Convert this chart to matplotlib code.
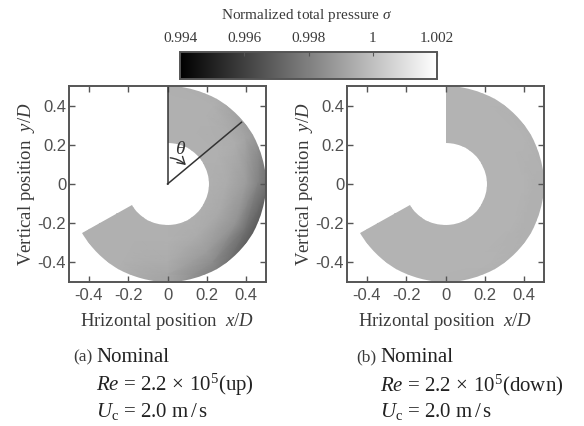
import numpy as np
import matplotlib
matplotlib.use("Agg")
import matplotlib.pyplot as plt
from matplotlib.patches import Wedge, FancyArrowPatch

plt.rcParams["font.family"] = ["Liberation Serif", "DejaVu Serif"]
plt.rcParams["mathtext.fontset"] = "custom"
plt.rcParams["mathtext.rm"] = "Liberation Serif"
plt.rcParams["mathtext.it"] = "Liberation Serif:italic"
plt.rcParams["axes.unicode_minus"] = False

# measurement grid: angle clockwise from +y (deg), radius (x/D)
theta_deg = [0, 30, 60, 90, 120, 150, 180, 210, 240]
radii = [0.20, 0.30, 0.40, 0.46, 0.53]

# normalized total pressure, rows = theta, cols = radius
sigma_up = [
    [0.9995, 0.9995, 0.9995, 0.9995, 0.9995],
    [0.9995, 0.9995, 0.9995, 0.9995, 0.9994],
    [0.9995, 0.9995, 0.9994, 0.9991, 0.9987],
    [0.9995, 0.9994, 0.9989, 0.9981, 0.9972],
    [0.9995, 0.9993, 0.9986, 0.9975, 0.9965],
    [0.9995, 0.9994, 0.9989, 0.9984, 0.9978],
    [0.9995, 0.9995, 0.9994, 0.9992, 0.9991],
    [0.9995, 0.9995, 0.9995, 0.9995, 0.9995],
    [0.9995, 0.9995, 0.9995, 0.9995, 0.9995],
]
sigma_down = [
    [0.9996, 0.9996, 0.9996, 0.9996, 0.9996],
    [0.9996, 0.9996, 0.9996, 0.9996, 0.9996],
    [0.9996, 0.9996, 0.9996, 0.9996, 0.9995],
    [0.9996, 0.9996, 0.9996, 0.9995, 0.9995],
    [0.9996, 0.9996, 0.9996, 0.9995, 0.9995],
    [0.9996, 0.9996, 0.9996, 0.9996, 0.9995],
    [0.9996, 0.9996, 0.9996, 0.9996, 0.9996],
    [0.9996, 0.9996, 0.9996, 0.9996, 0.9996],
    [0.9996, 0.9996, 0.9996, 0.9996, 0.9996],
]

r_in, r_out = 0.21, 0.50
theta_probe = 50  # probe line angle from vertical (deg)

ticks = [-0.4, -0.2, 0, 0.2, 0.4]
tick_labels = ["-0.4", "-0.2", "0", "0.2", "0.4"]
cbar_ticks = [0.994, 0.996, 0.998, 1.0, 1.002]
cbar_labels = ["0.994", "0.996", "0.998", "1", "1.002"]
vmin, vmax = 0.994, 1.002

captions = [
    ("(a)", ["Nominal", r"$Re$ = 2.2$\,\times\,$10$^{5}$(up)", r"$U_{\mathrm{c}}$ = 2.0 m$\,/\,$s"]),
    ("(b)", ["Nominal", r"$Re$ = 2.2$\,\times\,$10$^{5}$(down)", r"$U_{\mathrm{c}}$ = 2.0 m$\,/\,$s"]),
]

W, H = 584, 426
fig = plt.figure(figsize=(W / 100, H / 100), dpi=100)
frame_col = "#555555"
text_col = "#3a3a3a"

th = np.deg2rad(theta_deg)
R, TH = np.meshgrid(radii, th)
X = R * np.sin(TH)
Y = R * np.cos(TH)

lefts = [69, 347]
mesh = None
for k, (left, sig) in enumerate(zip(lefts, [sigma_up, sigma_down])):
    ax = fig.add_axes([left / W, 1 - 282 / H, 197 / W, 196 / H])
    mesh = ax.pcolormesh(X, Y, np.array(sig), cmap="gray", vmin=vmin, vmax=vmax,
                         shading="gouraud")
    wedge = Wedge((0, 0), r_out, 90 - max(theta_deg), 90, width=r_out - r_in,
                  transform=ax.transData)
    mesh.set_clip_path(wedge)
    ax.set_xlim(-0.5, 0.5)
    ax.set_ylim(-0.5, 0.5)
    ax.set_xticks(ticks)
    ax.set_xticklabels(tick_labels)
    ax.set_yticks(ticks)
    ax.set_yticklabels(tick_labels)
    ax.tick_params(direction="in", length=4, width=1, top=True, right=True,
                   colors=frame_col, labelcolor="#505050", labelsize=12)
    ax.tick_params(axis="x", pad=4)
    ax.tick_params(axis="y", pad=2)
    for lab in ax.get_xticklabels() + ax.get_yticklabels():
        lab.set_fontfamily("Liberation Sans")
    for sp in ax.spines.values():
        sp.set_color(frame_col)
        sp.set_linewidth(1.4)
    ax.set_xlabel(r"Hrizontal position  $x/D$", fontsize=13.5, color=text_col)
    ax.set_ylabel(r"Vertical position  $y/D$", fontsize=13.5, color=text_col)
    ax.xaxis.set_label_coords(0.5, -0.148)
    ax.yaxis.set_label_coords(-0.16, 0.5)

    if k == 0:
        # probe lines and angle marker
        a = np.deg2rad(theta_probe)
        ax.plot([0, 0], [0, 0.5], color="#333333", lw=1.1)
        ax.plot([0, 0.49 * np.sin(a)], [0, 0.49 * np.cos(a)], color="#333333", lw=1.1)
        ra = 0.135
        arr = FancyArrowPatch((0, ra), (ra * np.sin(a), ra * np.cos(a)),
                              connectionstyle="arc3,rad=-0.2",
                              arrowstyle="->,head_length=5,head_width=3",
                              color="#333333", lw=1.0, mutation_scale=1)
        ax.add_patch(arr)
        ax.text(0.065, 0.175, r"$\theta$", fontsize=14, color="#333333",
                ha="center", va="center")

# colorbar
cax = fig.add_axes([180 / W, 1 - 79 / H, 257 / W, 27 / H])
cb = fig.colorbar(mesh, cax=cax, orientation="horizontal")
cb.set_ticks(cbar_ticks)
cb.set_ticklabels(cbar_labels)
cax.xaxis.set_ticks_position("top")
cax.xaxis.set_label_position("top")
cax.tick_params(direction="in", length=3, colors=frame_col, labelcolor=text_col,
                labelsize=11, pad=5)
cb.outline.set_edgecolor(frame_col)
cb.outline.set_linewidth(1.4)
fig.text(307 / W, 1 - 15 / H, r"Normalized total pressure $\sigma$", ha="center",
         va="center", fontsize=11, color=text_col)

# captions
for x0, (tag, lines) in zip([96, 380], captions):
    ys = [357, 385, 411]
    fig.text((x0 - 4) / W, 1 - ys[0] / H, tag, ha="right", va="center",
             fontsize=12.5, color=text_col)
    for y, line in zip(ys, lines):
        fig.text(x0 / W, 1 - y / H, line, ha="left", va="center", fontsize=15,
                 color="#222222")

fig.savefig("out.png", dpi=100)
